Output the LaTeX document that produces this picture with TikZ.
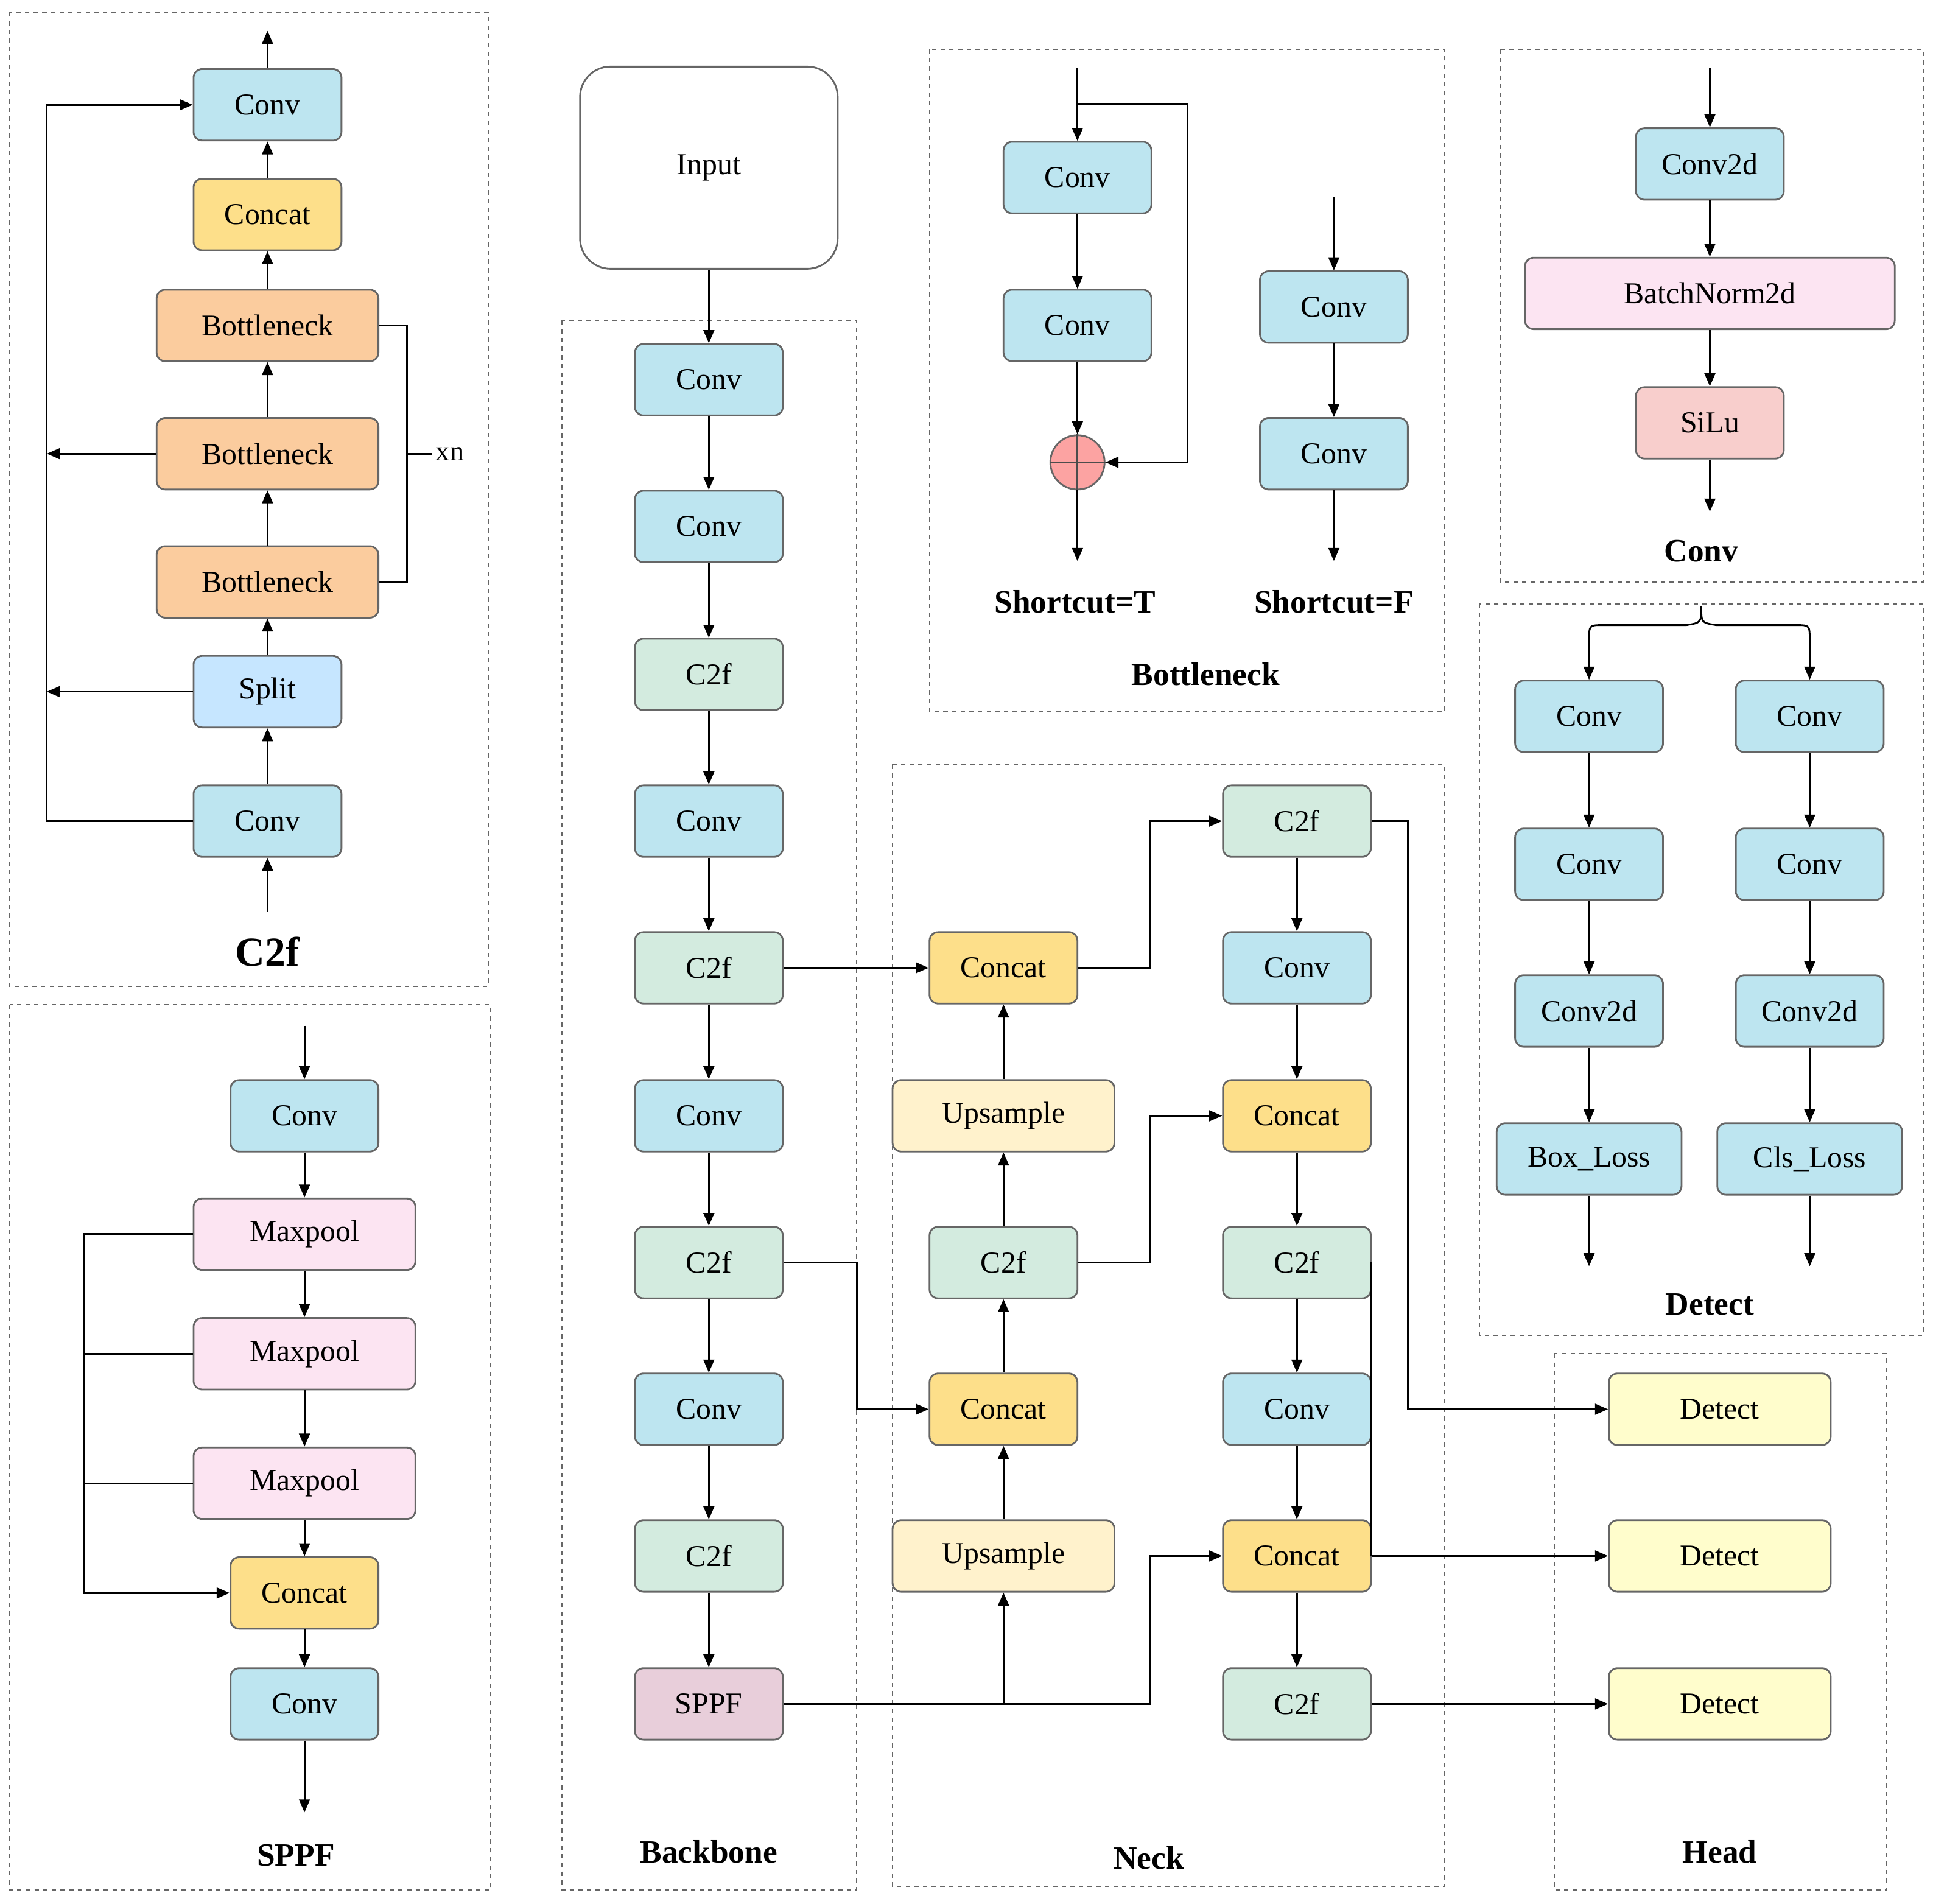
\documentclass[tikz,border=0pt]{standalone}
\usepackage{fontspec}
\setmainfont{Liberation Serif}
\usetikzlibrary{arrows.meta}
\begin{document}
\begin{tikzpicture}[x=0.02cm,y=-0.02cm,
 >={Triangle[length=6pt,width=5pt]},
 every path/.style={line width=0.8pt},
 box/.style={draw=black!60, rounded corners=4pt, minimum height=1.16cm, minimum width=2.4cm, font=\fontsize{14}{16}\selectfont, inner sep=1pt},
 wide/.style={minimum width=3.6cm},
 conv/.style={box, fill=cvc}, cat/.style={box, fill=ccc}, bn/.style={box, wide, fill=bnc},
 spl/.style={box, fill=spc}, cf/.style={box, fill=c2c}, spf/.style={box, fill=sppc},
 mp/.style={box, wide, fill=mpc}, up/.style={box, wide, fill=upc}, det/.style={box, wide, fill=dtc},
 panel/.style={draw=black!60, dash pattern=on 2pt off 2pt, line width=0.6pt},
 lab/.style={font=\bfseries\fontsize{15}{17}\selectfont}]
\definecolor{cvc}{HTML}{BDE5F0}\definecolor{ccc}{HTML}{FDDF8A}\definecolor{bnc}{HTML}{FBCC9E}
\definecolor{spc}{HTML}{C6E6FF}\definecolor{c2c}{HTML}{D3EBDF}\definecolor{sppc}{HTML}{E8CEDA}
\definecolor{mpc}{HTML}{FCE4F2}\definecolor{upc}{HTML}{FFF2CC}\definecolor{dtc}{HTML}{FFFDCC}
\definecolor{bnorm}{HTML}{FCE4F2}\definecolor{silu}{HTML}{F8CECC}
\useasboundingbox (0,0) rectangle (1568,1544);
% panels
\draw[panel] (8,10) rectangle (396,800);
\draw[panel] (8,815) rectangle (398,1533);
\draw[panel] (456,260) rectangle (695,1533);
\draw[panel] (754,40) rectangle (1172,577);
\draw[panel] (1217,40) rectangle (1560,472);
\draw[panel] (1200,490) rectangle (1560,1083);
\draw[panel] (724,620) rectangle (1172,1530);
\draw[panel] (1261,1098) rectangle (1530,1533);
% C2f panel
\node[conv] (a1) at (217,85) {Conv};
\node[cat] (a2) at (217,174) {Concat};
\node[bn] (a3) at (217,264) {Bottleneck};
\node[bn] (a4) at (217,368) {Bottleneck};
\node[bn] (a5) at (217,472) {Bottleneck};
\node[spl] (a6) at (217,561) {Split};
\node[conv] (a7) at (217,666) {Conv};
\coordinate (ain) at (217,740); \coordinate (aout) at (217,25);
\draw[->] (ain) -- (a7); \draw[->] (a7) -- (a6); \draw[->] (a6) -- (a5); \draw[->] (a5) -- (a4);
\draw[->] (a4) -- (a3); \draw[->] (a3) -- (a2); \draw[->] (a2) -- (a1); \draw[->] (a1) -- (aout);
\draw[->] (a7.west) -- (38,666) -- (38,85) -- (a1.west);
\draw[->] (a4.west) -- (38,368);
\draw[->] (a6.west) -- (38,561);
\draw (a3.east) -- (330,264) -- (330,472) -- (a5.east);
\draw (330,368) -- (350,368);
\node[font=\fontsize{13}{15}\selectfont] (xn) at (365,368) {xn};
\node[lab,font=\bfseries\fontsize{19}{21}\selectfont] (l1) at (217,772) {C2f};
% SPPF
\node[conv] (s1) at (247,905) {Conv};
\node[mp] (s2) at (247,1001) {Maxpool};
\node[mp] (s3) at (247,1098) {Maxpool};
\node[mp] (s4) at (247,1203) {Maxpool};
\node[cat] (s5) at (247,1292) {Concat};
\node[conv] (s6) at (247,1382) {Conv};
\coordinate (sin) at (247,832); \coordinate (sout) at (247,1470);
\draw[->] (sin) -- (s1); \draw[->] (s1) -- (s2); \draw[->] (s2) -- (s3); \draw[->] (s3) -- (s4);
\draw[->] (s4) -- (s5); \draw[->] (s5) -- (s6); \draw[->] (s6) -- (sout);
\draw[->] (s2.west) -- (68,1001) -- (68,1292) -- (s5.west);
\draw (s3.west) -- (68,1098); \draw (s4.west) -- (68,1203);
\node[lab] (l2) at (240,1505) {SPPF};
% Input + backbone
\node[draw=black!60, rounded corners=14pt, minimum width=4.18cm, minimum height=3.28cm, font=\fontsize{14}{16}\selectfont] (in) at (575,136) {Input};
\node[conv] (b1) at (575,308) {Conv};
\node[conv] (b2) at (575,427) {Conv};
\node[cf] (b3) at (575,547) {C2f};
\node[conv] (b4) at (575,666) {Conv};
\node[cf] (b5) at (575,785) {C2f};
\node[conv] (b6) at (575,905) {Conv};
\node[cf] (b7) at (575,1024) {C2f};
\node[conv] (b8) at (575,1143) {Conv};
\node[cf] (b9) at (575,1262) {C2f};
\node[spf] (b10) at (575,1382) {SPPF};
\draw[->] (in) -- (b1);
\foreach \i/\j in {b1/b2,b2/b3,b3/b4,b4/b5,b5/b6,b6/b7,b7/b8,b8/b9,b9/b10} \draw[->] (\i) -- (\j);
\node[lab] (l3) at (575,1502) {Backbone};
% Bottleneck panel
\node[conv] (t1) at (874,144) {Conv};
\node[conv] (t2) at (874,264) {Conv};
\node[circle, draw=black!60, fill=silu!60!red!70, minimum size=0.88cm, inner sep=0] (tp) at (874,375) {};
\draw[black!70] (tp.north) -- (tp.south) (tp.west) -- (tp.east);
\coordinate (tin) at (874,55); \coordinate (tout) at (874,455);
\draw[->] (tin) -- (t1); \draw[->] (t1) -- (t2); \draw[->] (t2) -- (tp); \draw[->] (tp) -- (tout);
\draw[->] (874,84) -- (963,84) -- (963,375) -- (tp.east);
\node[conv] (f1) at (1082,249) {Conv};
\node[conv] (f2) at (1082,368) {Conv};
\coordinate (fin) at (1082,160); \coordinate (fout) at (1082,455);
\draw[->] (fin) -- (f1); \draw[->] (f1) -- (f2); \draw[->] (f2) -- (fout);
\node[lab] (l4) at (872,488) {Shortcut=T};
\node[lab] (l5) at (1082,488) {Shortcut=F};
\node[lab] (l6) at (978,547) {Bottleneck};
% Conv panel
\node[conv] (c1) at (1387,133) {Conv2d};
\node[box, fill=bnorm, minimum width=6cm] (c2) at (1387,238) {BatchNorm2d};
\node[box, fill=silu] (c3) at (1387,343) {SiLu};
\coordinate (cin) at (1387,55); \coordinate (cout) at (1387,415);
\draw[->] (cin) -- (c1); \draw[->] (c1) -- (c2); \draw[->] (c2) -- (c3); \draw[->] (c3) -- (cout);
\node[lab] (l7) at (1380,447) {Conv};
% Detect panel
\node[conv] (d1) at (1289,581) {Conv};
\node[conv] (d2) at (1289,701) {Conv};
\node[conv] (d3) at (1289,820) {Conv2d};
\node[box, fill=cvc, minimum width=3cm] (d4) at (1289,940) {Box\_Loss};
\node[conv] (e1) at (1468,581) {Conv};
\node[conv] (e2) at (1468,701) {Conv};
\node[conv] (e3) at (1468,820) {Conv2d};
\node[box, fill=cvc, minimum width=3cm] (e4) at (1468,940) {Cls\_Loss};
\coordinate (dout) at (1289,1027); \coordinate (eout) at (1468,1027); \coordinate (dtop) at (1380,492);
\draw[->] (d1) -- (d2); \draw[->] (d2) -- (d3); \draw[->] (d3) -- (d4); \draw[->] (d4) -- (dout);
\draw[->] (e1) -- (e2); \draw[->] (e2) -- (e3); \draw[->] (e3) -- (e4); \draw[->] (e4) -- (eout);
\draw[->] (dtop) .. controls (1380,505) .. (1368,507) -- (1300,507) .. controls (1289,507) .. (1289,520) -- (d1.north);
\draw[->] (dtop) .. controls (1380,505) .. (1392,507) -- (1457,507) .. controls (1468,507) .. (1468,520) -- (e1.north);
\node[lab] (l8) at (1387,1058) {Detect};
% Neck
\node[cat] (n1) at (814,785) {Concat};
\node[up] (n2) at (814,905) {Upsample};
\node[cf] (n3) at (814,1024) {C2f};
\node[cat] (n4) at (814,1143) {Concat};
\node[up] (n5) at (814,1262) {Upsample};
\node[cf] (m1) at (1052,666) {C2f};
\node[conv] (m2) at (1052,785) {Conv};
\node[cat] (m3) at (1052,905) {Concat};
\node[cf] (m4) at (1052,1024) {C2f};
\node[conv] (m5) at (1052,1143) {Conv};
\node[cat] (m6) at (1052,1262) {Concat};
\node[cf] (m7) at (1052,1382) {C2f};
\node[lab] (l9) at (932,1507) {Neck};
\draw[->] (n5) -- (n4); \draw[->] (n4) -- (n3); \draw[->] (n3) -- (n2); \draw[->] (n2) -- (n1);
\foreach \i/\j in {m1/m2,m2/m3,m3/m4,m4/m5,m5/m6,m6/m7} \draw[->] (\i) -- (\j);
\draw[->] (b5.east) -- (n1.west);
\draw[->] (b7.east) -- (695,1024) -- (695,1143) -- (n4.west);
\draw[->] (b10.east) -- (814,1382) -- (n5.south);
\draw[->] (814,1382) -- (933,1382) -- (933,1262) -- (m6.west);
\draw[->] (n1.east) -- (933,785) -- (933,666) -- (m1.west);
\draw[->] (n3.east) -- (933,1024) -- (933,905) -- (m3.west);
% Head
\node[det] (h1) at (1395,1143) {Detect};
\node[det] (h2) at (1395,1262) {Detect};
\node[det] (h3) at (1395,1382) {Detect};
\node[lab] (l10) at (1395,1502) {Head};
\draw[->] (m1.east) -- (1142,666) -- (1142,1143) -- (h1.west);
\draw (1112,1024) -- (1112,1262);
\draw[->] (m6.east) -- (h2.west);
\draw[->] (m7.east) -- (h3.west);
\end{tikzpicture}
\end{document}
